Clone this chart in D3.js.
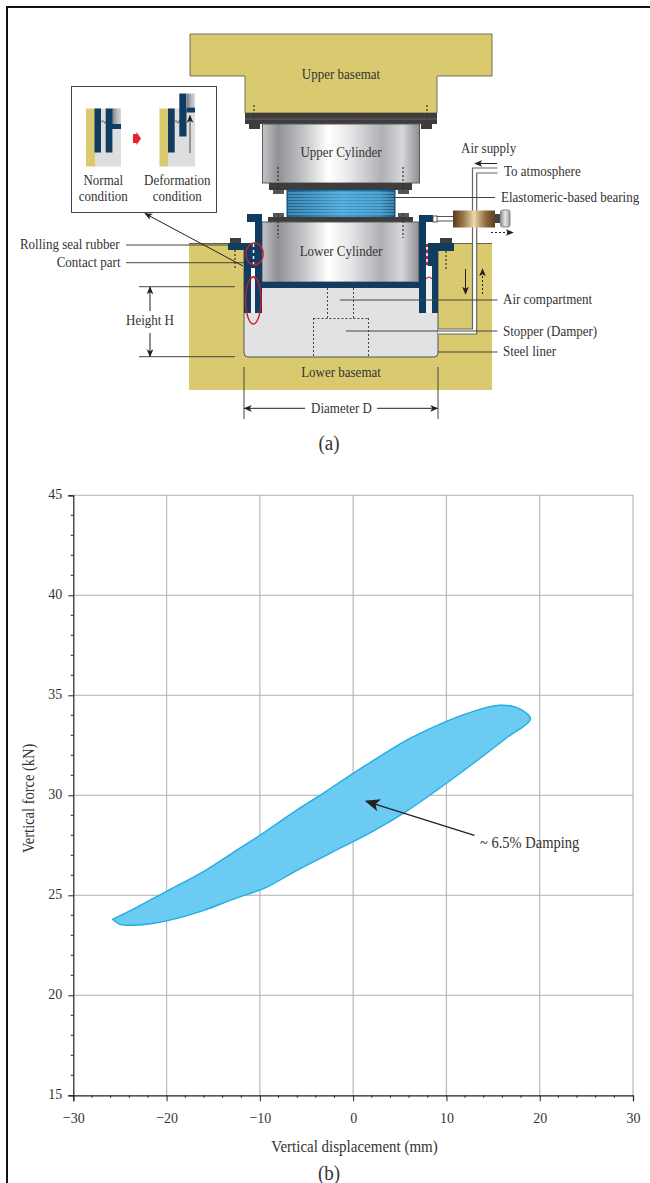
<!DOCTYPE html>
<html>
<head>
<meta charset="utf-8">
<script src="https://cdn.jsdelivr.net/npm/d3@7"></script>
<style>
html, body { margin: 0; padding: 0; background: #fff; }
svg { display: block; }
text { font-family: "Liberation Serif", serif; fill: #333; }
</style>
</head>
<body>
<svg id="fig" width="650" height="1183"></svg>
<script>
// chart values
const xTicks = [-30, -20, -10, 0, 10, 20, 30];
const xMinorTicks = [-28, -26, -24, -22, -18, -16, -14, -12, -8, -6, -4, -2, 2, 4, 6, 8, 12, 14, 16, 18, 22, 24, 26, 28];
const yTicks = [15, 20, 25, 30, 35, 40, 45];
const yMinorTicks = [16, 17, 18, 19, 21, 22, 23, 24, 26, 27, 28, 29, 31, 32, 33, 34, 36, 37, 38, 39, 41, 42, 43, 44];

// hysteresis loop, upper branch then back along the lower one
const loopDisplacement = [-25.8, -23.2, -20, -16, -13, -10, -6.4, -2.9, 0, 2.1, 5.7, 10, 12.9, 15.7, 17.5, 18.6, 19,
    16.4, 12.9, 10, 5.7, 2.1, -2.9, -6.4, -9.3, -12.9, -16, -20, -22.1, -23.8, -25, -25.8];
const loopForce = [23.8, 24.4, 25.2, 26.2, 27.1, 28, 29.15, 30.2, 31.1, 31.72, 32.75, 33.7, 34.2, 34.5, 34.4, 34.1, 33.8,
    32.85, 31.6, 30.6, 29.2, 28.2, 27, 26.15, 25.4, 24.8, 24.25, 23.72, 23.55, 23.5, 23.55, 23.8];

const svg = d3.select("#fig");
const defs = svg.append("defs");

// the reference text is a little condensed, so every label is drawn taller and squeezed
const squeeze = 0.9;

function gradient(id, stops) {
    const g = defs.append("linearGradient").attr("id", id);
    stops.forEach(s => g.append("stop").attr("offset", s[0]).attr("stop-color", s[1]));
}

function marker(id, size) {
    defs.append("marker")
        .attr("id", id)
        .attr("viewBox", "0 0 10 10")
        .attr("refX", 9).attr("refY", 5)
        .attr("markerUnits", "userSpaceOnUse")
        .attr("markerWidth", size).attr("markerHeight", size)
        .attr("orient", "auto-start-reverse")
        .append("path")
        .attr("d", "M0,0.8L10,5L0,9.2L2.5,5Z")
        .attr("fill", "#222");
}

gradient("steel", [[0, "#c4c5c8"], [0.1, "#8f9196"], [0.28, "#c9cacc"], [0.42, "#ffffff"], [0.55, "#e8e8ea"], [0.76, "#aeb0b3"], [0.89, "#d6d7d9"], [1, "#8d8e92"]]);
gradient("bearing", [[0, "#17628f"], [0.5, "#3c9fd6"], [0.85, "#2f8cc0"], [1, "#135a86"]]);
gradient("brass", [[0, "#5a3a1c"], [0.25, "#9a7a4c"], [0.5, "#ead9ab"], [0.78, "#8f6a3c"], [1, "#5d3d20"]]);
gradient("knob", [[0, "#8f8f8f"], [0.5, "#e6e6e6"], [1, "#9a9a9a"]]);
gradient("capGrey", [[0, "#777a7f"], [0.5, "#b4b6b9"], [1, "#d6d7d9"]]);
marker("head", 8);
marker("bigHead", 15);

const navy = "#0f3c60", gold = "#d9ca70", plate = "#3f3d3c", liner = "#e2e1e3", red = "#c9202f";

function rect(g, x, y, w, h, fill, stroke) {
    return g.append("rect").attr("x", x).attr("y", y).attr("width", w).attr("height", h)
        .attr("fill", fill).attr("stroke", stroke || "none").attr("stroke-width", 1);
}

function line(g, x1, y1, x2, y2, opts = {}) {
    const l = g.append("line").attr("x1", x1).attr("y1", y1).attr("x2", x2).attr("y2", y2)
        .attr("stroke", opts.color || "#444").attr("stroke-width", opts.width || 1);
    if (opts.dash) l.attr("stroke-dasharray", opts.dash);
    if (opts.head) l.attr("marker-end", `url(#${opts.head})`);
    return l;
}

function label(g, x, y, str, anchor = "start", size = 13) {
    return g.append("text")
        .attr("transform", `translate(${x},${y}) scale(${squeeze},1)`)
        .attr("dy", "0.33em")
        .attr("text-anchor", anchor).attr("font-size", size / squeeze).text(str);
}

// page frame
line(svg, 7, 6, 7, 1183, {color: "#111", width: 2});
line(svg, 6, 7, 650, 7, {color: "#111", width: 2});

drawSchematic(svg.append("g"));
drawInset(svg.append("g"));
drawChart(svg.append("g"));

function drawSchematic(g) {
    // basemats
    g.append("path").attr("d", "M190,34H492V76H437V113H245V76H190Z").attr("fill", gold).attr("stroke", "#55533f").attr("stroke-width", 0.8);
    rect(g, 189, 243.5, 303, 146.5, gold);
    line(g, 189, 243.5, 244, 243.5, {color: "#66644f"});
    line(g, 438, 243.5, 492, 243.5, {color: "#66644f"});
    rect(g, 244, 222, 194, 30, "#fff");

    // air compartment
    g.append("path").attr("d", "M244,250V353Q244,357 248,357H434Q438,357 438,353V250Z")
        .attr("fill", liner).attr("stroke", "#555").attr("stroke-width", 1);

    // upper plates and cylinder
    rect(g, 245, 113, 192, 11, plate);
    line(g, 245, 119, 437, 119, {color: "#6a6866", width: 1});
    rect(g, 249, 124, 11, 5, plate);
    rect(g, 421, 124, 11, 5, plate);
    rect(g, 262.5, 124, 157, 59, "url(#steel)", "#5a5a5a");
    rect(g, 269, 183, 143, 7, plate);
    [273, 398].forEach(x => rect(g, x, 190, 11, 4, "#5a5856"));

    // bearing
    rect(g, 287, 190, 108, 28, "url(#bearing)", "#14507a");
    d3.range(193, 217, 3).forEach(y => line(g, 288, y, 394, y, {color: "#9fd0ea", width: 0.7}));

    // lower plate and cylinder
    [273, 398].forEach(x => rect(g, x, 213, 11, 5, "#5a5856"));
    rect(g, 268, 217, 145, 5, plate);
    rect(g, 262, 222, 157, 60, "url(#steel)", "#5a5a5a");
    rect(g, 262, 282, 157, 6, navy);

    // left wall
    rect(g, 247, 214, 15, 8, navy);
    rect(g, 255, 214, 7, 99, navy);
    rect(g, 228, 243, 17, 7, navy);
    rect(g, 244, 243, 11, 25, navy);
    rect(g, 244, 268, 7, 45, navy);
    rect(g, 251, 268, 4, 10, "#fff");
    rect(g, 251, 278, 4, 35, "#f0f0f2");
    rect(g, 230, 238, 11, 5, plate);
    line(g, 253.5, 244, 253.5, 266, {color: "#fff", width: 1.5, dash: "3 3"});

    // right wall
    rect(g, 419, 215, 14, 7, navy);
    rect(g, 419, 215, 7, 98, navy);
    rect(g, 432, 243, 6, 70, navy);
    rect(g, 428, 243, 26, 8, navy);
    rect(g, 428, 243, 5, 23, navy);
    rect(g, 426, 266, 6, 12, "#fff");
    rect(g, 426, 278, 6, 35, "#f0f0f2");
    rect(g, 440, 238, 12, 5, plate);
    rect(g, 433, 216, 4, 6, "#fff", "#555");
    line(g, 427, 244, 427, 266, {color: red, width: 2, dash: "3 3"});
    g.append("path").attr("d", "M426,279Q429,275 432,279").attr("fill", "none").attr("stroke", red).attr("stroke-width", 1.2);
    g.append("path").attr("d", "M251,279Q253,275 255,279").attr("fill", "none").attr("stroke", red).attr("stroke-width", 1.2);

    // bolts, dashed
    const dots = {color: "#333", width: 1.2, dash: "2 2"};
    [[254, 105, 124], [427, 105, 124], [278, 167, 193], [403, 167, 193], [278, 213, 238], [403, 213, 238], [235, 250, 270], [446, 251, 270]]
        .forEach(d => line(g, d[0], d[1], d[0], d[2], dots));

    // stopper outline
    const dotted = {color: "#444", width: 1, dash: "2 2"};
    line(g, 327.5, 288, 327.5, 318, dotted);
    line(g, 353.5, 288, 353.5, 318, dotted);
    line(g, 313.5, 318.5, 368.5, 318.5, dotted);
    line(g, 313.5, 318, 313.5, 356, dotted);
    line(g, 368.5, 318, 368.5, 356, dotted);

    // pipes
    const pipe = {color: "#666", width: 1.2};
    rect(g, 438, 329, 38.5, 5, "#fff");
    rect(g, 472.5, 168, 4, 166, "#fff");
    g.append("path").attr("d", "M497.5,168H472.5V329H438").attr("fill", "none").attr("stroke", pipe.color).attr("stroke-width", pipe.width);
    g.append("path").attr("d", "M497.5,173H476.7V334H438").attr("fill", "none").attr("stroke", pipe.color).attr("stroke-width", pipe.width);

    // damper device on the pipe
    line(g, 437, 216.5, 453, 216.5, {color: "#555"});
    line(g, 437, 221, 453, 221, {color: "#555"});
    rect(g, 453, 210.5, 42, 17, "url(#brass)");
    rect(g, 495, 214, 6, 9, "#444");
    rect(g, 500.5, 210, 9.5, 17, "url(#knob)", "#888").attr("rx", 2);
    line(g, 491, 232.5, 513, 232.5, {color: "#222", dash: "2 2", head: "head"});

    // flow arrows
    line(g, 497, 163.5, 475, 163.5, {color: "#222", head: "head"});
    line(g, 465.5, 269, 465.5, 294, {color: "#222", head: "head"});
    line(g, 482.5, 294, 482.5, 269, {color: "#222", dash: "2 2", head: "head"});

    // red marks
    g.append("ellipse").attr("cx", 254.5).attr("cy", 254).attr("rx", 8.7).attr("ry", 11)
        .attr("fill", "none").attr("stroke", red).attr("stroke-width", 1.4);
    g.append("ellipse").attr("cx", 253.3).attr("cy", 300.3).attr("rx", 7.7).attr("ry", 23.7)
        .attr("fill", "none").attr("stroke", red).attr("stroke-width", 1.4);

    // leaders
    const lead = {color: "#444"};
    line(g, 126, 245, 228, 245, lead);
    line(g, 126, 262.7, 244, 262.7, lead);
    line(g, 139, 286.7, 235, 286.7, lead);
    line(g, 139, 356.7, 235, 356.7, lead);
    line(g, 390, 197.5, 495, 197.5, lead);
    line(g, 340, 300, 497.5, 300, lead);
    line(g, 346, 331, 497.5, 331, lead);
    line(g, 438, 352, 497.5, 352, lead);
    line(g, 150, 311, 150, 287, {color: "#222", head: "head"});
    line(g, 150, 333, 150, 356.5, {color: "#222", head: "head"});
    line(g, 244, 367, 244, 419, lead);
    line(g, 438, 367, 438, 419, lead);
    line(g, 305, 408.3, 244.5, 408.3, {color: "#222", head: "head"});
    line(g, 377, 408.3, 437.5, 408.3, {color: "#222", head: "head"});
    line(g, 243, 266, 145, 213.5, {color: "#222", head: "head"});

    // text
    label(g, 341, 74, "Upper basemat", "middle");
    label(g, 341, 152.5, "Upper Cylinder", "middle");
    label(g, 341, 251, "Lower Cylinder", "middle");
    label(g, 341, 372.5, "Lower basemat", "middle");
    label(g, 461, 148, "Air supply");
    label(g, 504, 171.5, "To atmosphere");
    label(g, 501, 197, "Elastomeric-based bearing");
    label(g, 503, 299.5, "Air compartment");
    label(g, 503, 331, "Stopper (Damper)");
    label(g, 503, 351.5, "Steel liner");
    label(g, 119.5, 244.5, "Rolling seal rubber", "end");
    label(g, 120.5, 262.5, "Contact part", "end");
    label(g, 150, 320.5, "Height H", "middle");
    label(g, 341.5, 408, "Diameter D", "middle");
    label(g, 329, 443, "(a)", "middle", 19);
}

function drawInset(g) {
    rect(g, 71.5, 86.5, 145, 126, "#fff", "#444");

    // normal condition
    rect(g, 86, 108.5, 9, 58, gold);
    rect(g, 95, 108.5, 26, 58, "#dededf");
    rect(g, 112, 108.5, 9, 16, "url(#capGrey)");
    rect(g, 94.5, 108.5, 6.5, 44, navy);
    rect(g, 105.7, 108.5, 6.7, 44, navy);
    rect(g, 112, 124, 9, 5, navy);
    g.append("path").attr("d", "M101,122Q103,119 104,122T105.7,121").attr("fill", "none").attr("stroke", "#333").attr("stroke-width", 0.7);

    // red arrow between
    g.append("path").attr("d", "M133,134H136.5V132L141,138.5L136.5,145V143H133Z").attr("fill", "#e8202a");

    // deformation condition
    rect(g, 159.5, 108.5, 9, 58, gold);
    rect(g, 168, 108.5, 27, 58, "#dededf");
    rect(g, 187, 93.5, 8, 14, "url(#capGrey)");
    rect(g, 168, 108.5, 6.7, 44, navy);
    rect(g, 179.3, 93.5, 7.2, 43, navy);
    rect(g, 186.5, 107.5, 8.5, 5, navy);
    g.append("path").attr("d", "M174.7,122Q176,119 177,122T179.3,120").attr("fill", "none").attr("stroke", "#333").attr("stroke-width", 0.7);
    line(g, 190, 153, 190, 115.5, {color: "#222", width: 0.8, head: "head"});

    label(g, 103.3, 180, "Normal", "middle");
    label(g, 103.3, 196.5, "condition", "middle");
    label(g, 177.3, 180, "Deformation", "middle");
    label(g, 177.3, 196.5, "condition", "middle");
}

function drawChart(g) {
    const x = d3.scaleLinear().domain([-30, 30]).range([73.3, 633]);
    const y = d3.scaleLinear().domain([15, 45]).range([1095.3, 495.3]);

    // grid
    g.selectAll(".vgrid").data(xTicks.slice(1)).enter().append("line")
        .attr("class", "vgrid")
        .attr("x1", d => x(d)).attr("x2", d => x(d))
        .attr("y1", y(45)).attr("y2", y(15))
        .attr("stroke", "#bdbdbf").attr("stroke-width", 1.3);
    g.selectAll(".hgrid").data(yTicks.slice(1)).enter().append("line")
        .attr("class", "hgrid")
        .attr("x1", x(-30)).attr("x2", x(30))
        .attr("y1", d => y(d)).attr("y2", d => y(d))
        .attr("stroke", "#aeaeb0").attr("stroke-width", 1.1);

    // loop
    const loop = d3.line()
        .x(i => x(loopDisplacement[i]))
        .y(i => y(loopForce[i]))
        .curve(d3.curveCatmullRom.alpha(0.5));
    g.append("path")
        .attr("d", loop(d3.range(loopForce.length)) + "Z")
        .attr("fill", "#6ccbf3")
        .attr("stroke", "#22ade2")
        .attr("stroke-width", 1.4)
        .attr("stroke-linejoin", "round");

    // axes
    const fmt = d => String(d).replace("-", "\u2212");
    const axisX = g.append("g").attr("transform", `translate(0,${y(15)})`)
        .call(d3.axisBottom(x).tickValues(xTicks).tickFormat(fmt).tickSize(6).tickPadding(11));
    axisX.append("g").selectAll("line").data(xMinorTicks).enter().append("line")
        .attr("x1", d => x(d)).attr("x2", d => x(d)).attr("y1", 0).attr("y2", 2.5)
        .attr("stroke", "#222");
    const axisY = g.append("g").attr("transform", `translate(${x(-30)},0)`)
        .call(d3.axisLeft(y).tickValues(yTicks).tickSize(5).tickPadding(6));
    axisY.append("g").selectAll("line").data(yMinorTicks).enter().append("line")
        .attr("x1", 0).attr("x2", -2.5).attr("y1", d => y(d)).attr("y2", d => y(d))
        .attr("stroke", "#222");
    g.selectAll(".domain").attr("stroke", "#222").attr("stroke-width", 1.2);
    g.selectAll(".tick line").attr("stroke", "#222");
    g.selectAll(".tick text")
        .attr("font-family", "Liberation Serif")
        .attr("font-size", 14 / squeeze)
        .attr("fill", "#333")
        .attr("transform", `scale(${squeeze},1)`);
    axisY.selectAll(".tick text").attr("x", -11 / squeeze).attr("dy", "0.22em");

    // titles
    label(g, 354.5, 1146, "Vertical displacement (mm)", "middle", 15);
    g.append("text")
        .attr("transform", `translate(29,${y(30) + 3}) rotate(-90) scale(${squeeze},1)`)
        .attr("text-anchor", "middle").attr("dy", "0.33em").attr("font-size", 14.5 / squeeze)
        .text("Vertical force (kN)");
    label(g, 329, 1173, "(b)", "middle", 19);

    // damping note
    line(g, x(13), y(28), x(1.4), y(29.7), {color: "#222", width: 1.4, head: "bigHead"});
    label(g, 480, 843, "~ 6.5% Damping", "start", 14.5);
}
</script>
</body>
</html>
